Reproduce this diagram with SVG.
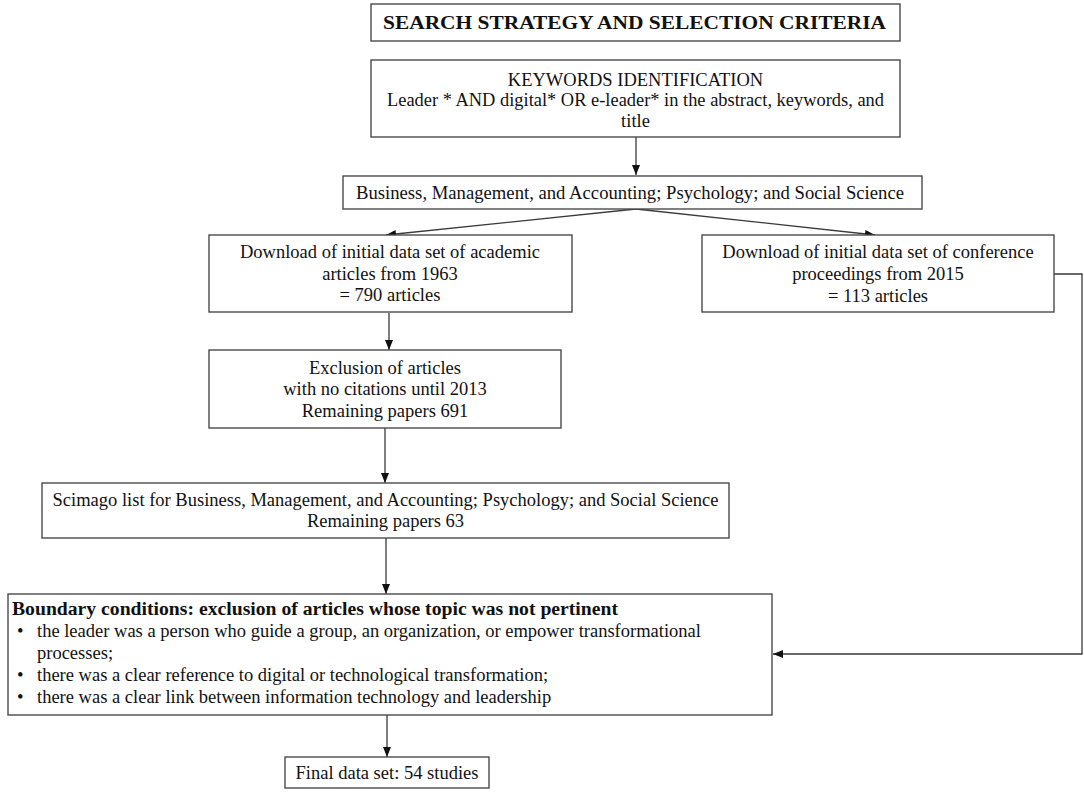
<svg xmlns="http://www.w3.org/2000/svg" width="1084" height="792" viewBox="0 0 1084 792">
<style>
.box{fill:#fff;stroke:#4a4a4a;stroke-width:1.4}
.t{font-family:"Liberation Serif","Times New Roman",serif;font-size:18.5px;fill:#111}
.c{text-anchor:middle}
.b{font-weight:bold}
.ln{fill:none;stroke:#3a3a3a;stroke-width:1.3}
</style>
<defs>
<marker id="ah" viewBox="0 0 10 10" refX="10" refY="5" markerWidth="10" markerHeight="10" markerUnits="userSpaceOnUse" orient="auto">
<path d="M0,1 L10,5 L0,9 Z" fill="#111"/>
</marker>
</defs>
<rect width="1084" height="792" fill="#fff"/>
<g id="connectors">
<line class="ln" x1="636" y1="137" x2="636" y2="175" marker-end="url(#ah)"/>
<line class="ln" x1="636" y1="209" x2="386" y2="235" marker-end="url(#ah)"/>
<line class="ln" x1="636" y1="209" x2="875" y2="235" marker-end="url(#ah)"/>
<line class="ln" x1="389" y1="313" x2="389" y2="350" marker-end="url(#ah)"/>
<line class="ln" x1="385" y1="428" x2="385" y2="483" marker-end="url(#ah)"/>
<line class="ln" x1="386" y1="538" x2="386" y2="594" marker-end="url(#ah)"/>
<line class="ln" x1="387" y1="715" x2="387" y2="757" marker-end="url(#ah)"/>
<polyline class="ln" points="1054,274 1082,274 1082,654 773,654" marker-end="url(#ah)"/>
</g>
<g id="title">
<rect class="box" x="371" y="4" width="529" height="37"/>
<text class="t c b" x="634.5" y="29" font-size="21" textLength="503" lengthAdjust="spacingAndGlyphs">SEARCH STRATEGY AND SELECTION CRITERIA</text>
</g>
<g id="keywords">
<rect class="box" x="371" y="60" width="529" height="77"/>
<text class="t c" x="635.5" y="86">KEYWORDS IDENTIFICATION</text>
<text class="t c" x="635.5" y="106" textLength="497" lengthAdjust="spacingAndGlyphs">Leader * AND digital* OR e-leader* in the abstract, keywords, and</text>
<text class="t c" x="635.5" y="127">title</text>
</g>
<g id="subjects">
<rect class="box" x="343" y="176" width="579" height="33"/>
<text class="t c" x="630" y="199" textLength="548" lengthAdjust="spacingAndGlyphs">Business, Management, and Accounting; Psychology; and Social Science</text>
</g>
<g id="academic">
<rect class="box" x="209" y="235" width="363" height="77"/>
<text class="t c" x="390" y="258">Download of initial data set of academic</text>
<text class="t c" x="390" y="280">articles from 1963</text>
<text class="t c" x="390" y="301">= 790 articles</text>
</g>
<g id="conference">
<rect class="box" x="702" y="235" width="352" height="77"/>
<text class="t c" x="878" y="258">Download of initial data set of conference</text>
<text class="t c" x="878" y="280">proceedings from 2015</text>
<text class="t c" x="878" y="302">= 113 articles</text>
</g>
<g id="exclusion">
<rect class="box" x="209" y="350" width="352" height="78"/>
<text class="t c" x="385" y="374">Exclusion of articles</text>
<text class="t c" x="385" y="395">with no citations until 2013</text>
<text class="t c" x="385" y="417">Remaining papers 691</text>
</g>
<g id="scimago">
<rect class="box" x="42" y="483" width="687" height="55"/>
<text class="t c" x="385.5" y="506">Scimago list for Business, Management, and Accounting; Psychology; and Social Science</text>
<text class="t c" x="385.5" y="527">Remaining papers 63</text>
</g>
<g id="boundary">
<rect class="box" x="8" y="594" width="764" height="121"/>
<text class="t b" x="12" y="615" textLength="606" lengthAdjust="spacingAndGlyphs">Boundary conditions: exclusion of articles whose topic was not pertinent</text>
<text class="t" x="17" y="637">•</text>
<text class="t" x="37" y="637">the leader was a person who guide a group, an organization, or empower transformational</text>
<text class="t" x="37" y="659">processes;</text>
<text class="t" x="17" y="681">•</text>
<text class="t" x="37" y="681">there was a clear reference to digital or technological transformation;</text>
<text class="t" x="17" y="703">•</text>
<text class="t" x="37" y="703">there was a clear link between information technology and leadership</text>
</g>
<g id="final">
<rect class="box" x="285" y="757" width="204" height="31"/>
<text class="t c" x="387" y="779">Final data set: 54 studies</text>
</g>
</svg>
